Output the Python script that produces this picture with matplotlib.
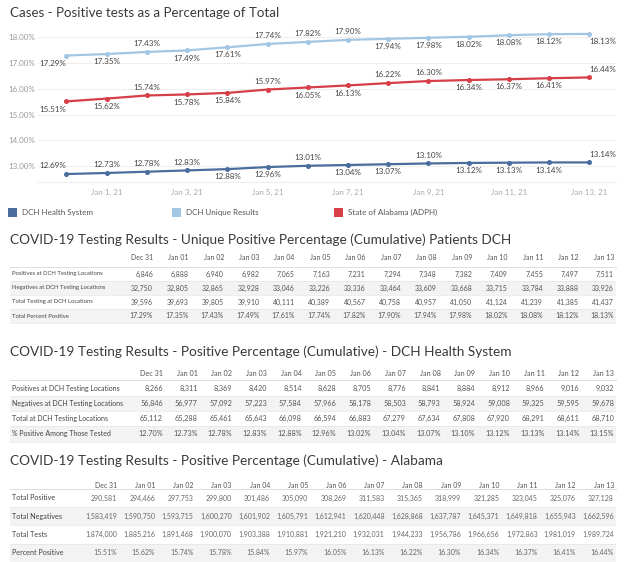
import numpy as np
import pandas as pd
import matplotlib
matplotlib.use('Agg')
import matplotlib.pyplot as plt
import matplotlib.dates as mdates
from matplotlib.patches import Rectangle

plt.rcParams['font.family'] = ['Lato', 'DejaVu Sans']

# ---- data ----
dates = pd.to_datetime(['2020-12-31', '2021-01-01', '2021-01-02', '2021-01-03', '2021-01-04',
                        '2021-01-05', '2021-01-06', '2021-01-07', '2021-01-08', '2021-01-09',
                        '2021-01-10', '2021-01-11', '2021-01-12', '2021-01-13'])
col_hdr = ['Dec 31', 'Jan 01', 'Jan 02', 'Jan 03', 'Jan 04', 'Jan 05', 'Jan 06',
           'Jan 07', 'Jan 08', 'Jan 09', 'Jan 10', 'Jan 11', 'Jan 12', 'Jan 13']

dch_pct = [12.69, 12.73, 12.78, 12.83, 12.88, 12.96, 13.01, 13.04, 13.07, 13.10, 13.12, 13.13, 13.14, 13.14]
unique_pct = [17.29, 17.35, 17.43, 17.49, 17.61, 17.74, 17.82, 17.90, 17.94, 17.98, 18.02, 18.08, 18.12, 18.13]
alabama_pct = [15.51, 15.62, 15.74, 15.78, 15.84, 15.97, 16.05, 16.13, 16.22, 16.30, 16.34, 16.37, 16.41, 16.44]

# table 1 - unique patients DCH
t1_pos = [6846, 6888, 6940, 6982, 7065, 7163, 7231, 7294, 7348, 7382, 7409, 7455, 7497, 7511]
t1_neg = [32750, 32805, 32865, 32928, 33046, 33226, 33336, 33464, 33609, 33668, 33715, 33784, 33888, 33926]
t1_tot = [39596, 39693, 39805, 39910, 40111, 40389, 40567, 40758, 40957, 41050, 41124, 41239, 41385, 41437]
t1_pct = unique_pct

# table 2 - DCH health system
t2_pos = [8266, 8311, 8369, 8420, 8514, 8628, 8705, 8776, 8841, 8884, 8912, 8966, 9016, 9032]
t2_neg = [56846, 56977, 57092, 57223, 57584, 57966, 58178, 58503, 58793, 58924, 59008, 59325, 59595, 59678]
t2_tot = [65112, 65288, 65461, 65643, 66098, 66594, 66883, 67279, 67634, 67808, 67920, 68291, 68611, 68710]
t2_pct = [12.70, 12.73, 12.78, 12.83, 12.88, 12.96, 13.02, 13.04, 13.07, 13.10, 13.12, 13.13, 13.14, 13.15]

# table 3 - Alabama
t3_pos = [290581, 294466, 297753, 299800, 301486, 305090, 308269, 311583, 315365, 318999,
          321285, 323045, 325076, 327128]
t3_neg = [1583419, 1590750, 1593715, 1600270, 1601902, 1605791, 1612941, 1620448, 1628868,
          1637787, 1645371, 1649818, 1655943, 1662596]
t3_tot = [1874000, 1885216, 1891468, 1900070, 1903388, 1910881, 1921210, 1932031, 1944233,
          1956786, 1966656, 1972863, 1981019, 1989724]
t3_pct = alabama_pct

# label side for each point: a = above, b = below
side_dch = ['a', 'a', 'a', 'a', 'b', 'b', 'a', 'b', 'b', 'a', 'b', 'b', 'b', 'a']
side_unique = ['b', 'b', 'a', 'b', 'b', 'a', 'a', 'a', 'b', 'b', 'b', 'b', 'b', 'b']
side_al = ['b', 'b', 'a', 'b', 'b', 'a', 'b', 'b', 'a', 'a', 'b', 'b', 'b', 'a']

C_DCH, C_UNI, C_AL = '#4a6d9e', '#a3c6e3', '#d63f48'

W, H = 624, 562
fig = plt.figure(figsize=(W / 100, H / 100), dpi=100)

# overlay in pixel coords for titles, legend and tables
ov = fig.add_axes([0, 0, 1, 1])
ov.set_xlim(0, W)
ov.set_ylim(H, 0)
ov.axis('off')

ov.text(10, 13, 'Cases - Positive tests as a Percentage of Total', fontsize=9.6, color='#3a3a3a', va='center')

# ---- line chart ----
ax = fig.add_axes([38 / W, 1 - 182 / H, 578 / W, 154 / H])
ax.patch.set_alpha(0)
for vals, col, side in [(unique_pct, C_UNI, side_unique), (alabama_pct, C_AL, side_al), (dch_pct, C_DCH, side_dch)]:
    ax.plot(dates, vals, color=col, lw=1.6, marker='o', ms=2.6, zorder=3)
    n = len(vals)
    for i in range(n):
        ha = 'right' if i == 0 else ('left' if i == n - 1 else 'center')
        dy = 6 if side[i] == 'a' else -5.5
        ax.annotate('%.2f%%' % vals[i], (dates[i], vals[i]), xytext=(0, dy), textcoords='offset points',
                    ha=ha, va='center', fontsize=5.8, color='#444')

ax.set_ylim(12.38, 18.36)
ax.set_yticks([13, 14, 15, 16, 17, 18])
ax.yaxis.set_major_formatter(lambda v, p: '%.2f%%' % v)
ax.set_xlim(dates[0] - pd.Timedelta(hours=17), dates[-1] + pd.Timedelta(hours=16))
ax.xaxis.set_major_locator(mdates.DayLocator(bymonthday=range(1, 14, 2)))
ax.xaxis.set_major_formatter(mdates.DateFormatter('%b %-d, %y'))
ax.tick_params(axis='y', length=0, labelsize=5.8, labelcolor='#999', pad=2)
ax.tick_params(axis='x', length=0, labelsize=5.8, labelcolor='#aaa', pad=5)
ax.grid(axis='y', color='#efefef', lw=0.7)
for s in ['top', 'right', 'left']:
    ax.spines[s].set_visible(False)
ax.spines['bottom'].set_color('#eeeeee')

# legend
for x0, col, name in [(8, C_DCH, 'DCH Health System'), (172, C_UNI, 'DCH Unique Results'),
                      (334, C_AL, 'State of Alabama (ADPH)')]:
    ov.add_patch(Rectangle((x0, 207.5), 9, 9, color=col, lw=0))
    ov.text(x0 + 14, 212, name, fontsize=5.8, color='#555', va='center')


# ---- tables ----
def draw_table(title, title_y, hdr_y, row0_y, pitch, labels, rows, x_first, x_last,
               lab_fs, num_fs, num_col):
    ov.text(10, title_y, title, fontsize=9.8, color='#3a3a3a', va='center')
    xs = np.linspace(x_first, x_last, len(col_hdr))
    for x, h in zip(xs, col_hdr):
        ov.text(x, hdr_y, h, fontsize=num_fs, color='#555', ha='right', va='center')
    top = row0_y - pitch / 2
    ov.plot([10, 616], [top, top], color='#dddddd', lw=0.7)
    for r, (lab, vals) in enumerate(zip(labels, rows)):
        y = row0_y + r * pitch
        if r % 2 == 1:
            ov.add_patch(Rectangle((10, y - pitch / 2), 606, pitch, color='#f3f3f3', lw=0))
        ov.plot([10, 616], [y + pitch / 2, y + pitch / 2], color='#e6e6e6', lw=0.5)
        ov.text(12, y, lab, fontsize=lab_fs, color='#444', va='center')
        for x, v in zip(xs, vals):
            s = '%.2f%%' % v if isinstance(v, float) else '{:,}'.format(v)
            ov.text(x, y, s, fontsize=num_fs, color=num_col, ha='right', va='center')


draw_table('COVID-19 Testing Results - Unique Positive Percentage (Cumulative) Patients DCH',
           240, 258, 274, 14,
           ['Positives at DCH Testing Locations', 'Negatives at DCH Testing Locations',
            'Total Testing at DCH Locations', 'Total Percent Positive'],
           [t1_pos, t1_neg, t1_tot, t1_pct], 153, 614, 4.2, 5.0, '#555')

draw_table('COVID-19 Testing Results - Positive Percentage (Cumulative) - DCH Health System',
           352, 374, 388, 15.3,
           ['Positives at DCH Testing Locations', 'Negatives at DCH Testing Locations',
            'Total at DCH Testing Locations', '% Positive Among Those Tested'],
           [t2_pos, t2_neg, t2_tot, t2_pct], 163, 614, 5.0, 5.2, '#555')

draw_table('COVID-19 Testing Results - Positive Percentage (Cumulative) - Alabama',
           461, 486, 498, 18.3,
           ['Total Positive', 'Total Negatives', 'Total Tests', 'Percent Positive'],
           [t3_pos, t3_neg, t3_tot, t3_pct], 117, 614, 5.2, 5.0, '#666')

fig.savefig('out.png', dpi=100)
